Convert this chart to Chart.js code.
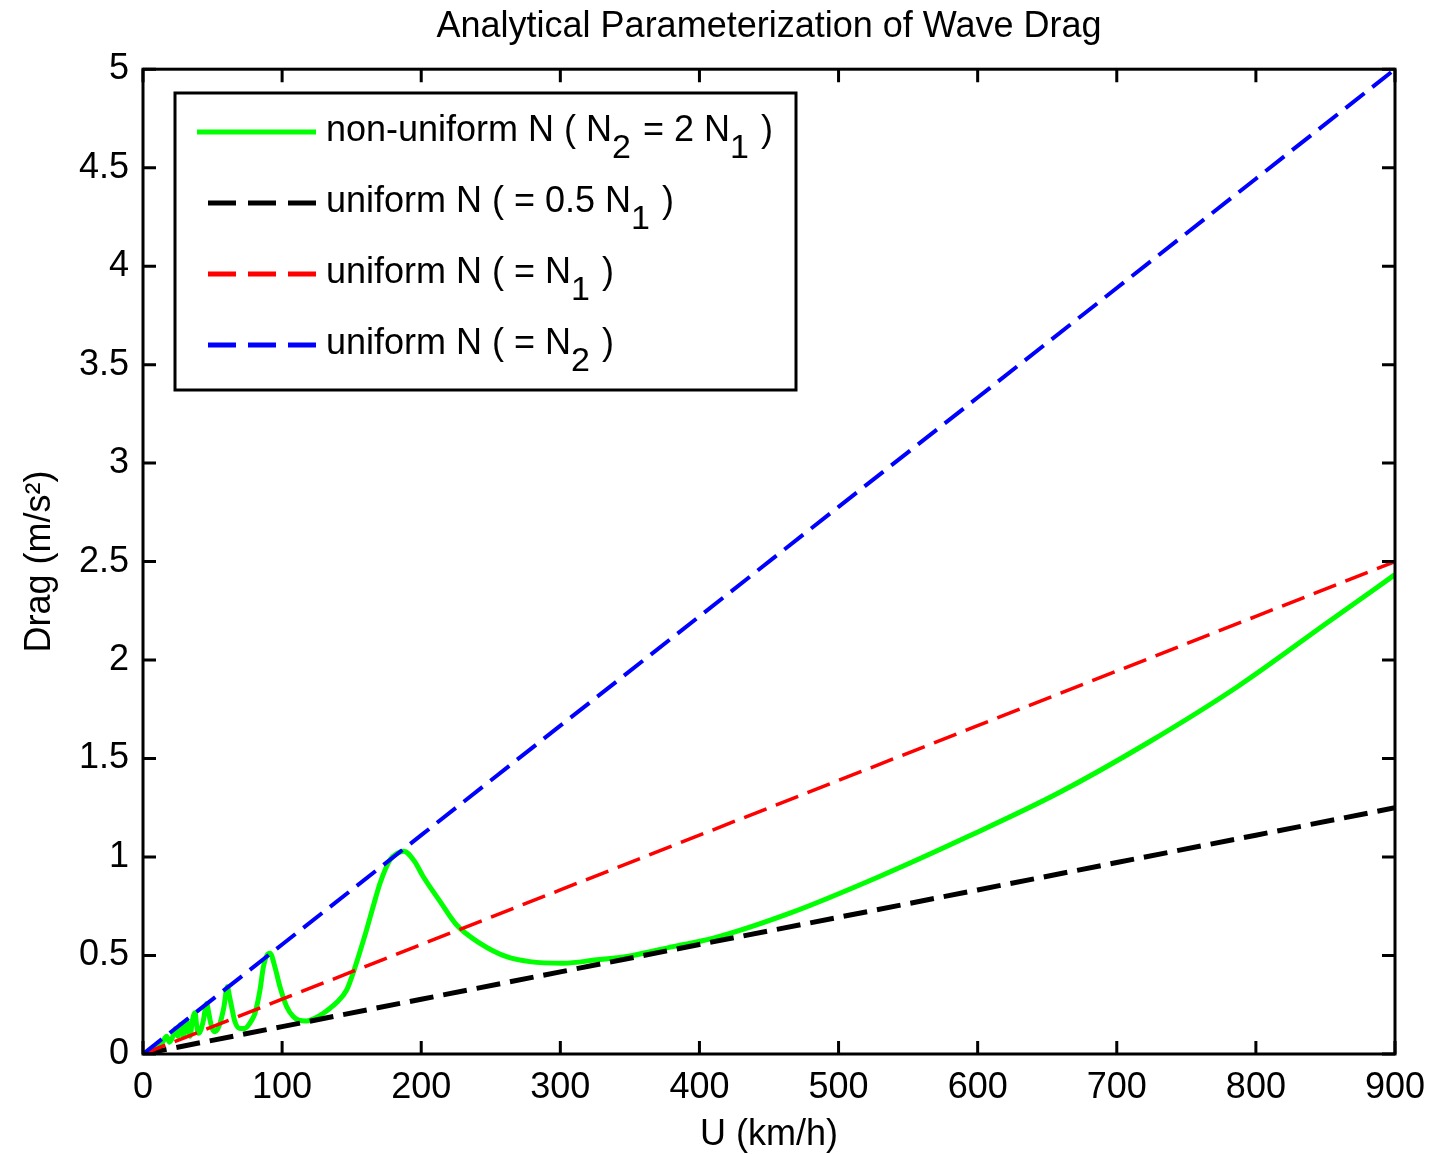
<!DOCTYPE html>
<html>
<head>
<meta charset="utf-8">
<script src="https://cdn.jsdelivr.net/npm/chart.js@4.4.0/dist/chart.umd.min.js"></script>
<style>
html,body{margin:0;padding:0;background:#fff;}
#wrap{width:1429px;height:1154px;}
</style>
</head>
<body>
<div id="wrap"><canvas id="c" width="1429" height="1154"></canvas></div>
<script>
const FONT = '"Liberation Sans Narrow", "Liberation Sans", Arial, sans-serif';

// Tick labels
const xTicks = [0, 100, 200, 300, 400, 500, 600, 700, 800, 900];
const yTicks = [0, 0.5, 1, 1.5, 2, 2.5, 3, 3.5, 4, 4.5, 5];

// Uniform-N reference curves (U in km/h, drag in m/s^2)
const speedKmh   = [0, 100, 200, 300, 400, 500, 600, 700, 800, 900];
const dragHalfN1 = [0, 0.139, 0.278, 0.417, 0.556, 0.694, 0.833, 0.972, 1.111, 1.25];
const dragN1     = [0, 0.278, 0.556, 0.833, 1.111, 1.389, 1.667, 1.944, 2.222, 2.5];
const dragN2     = [0, 0.556, 1.111, 1.667, 2.222, 2.778, 3.333, 3.889, 4.444, 5.0];

// Non-uniform N curve
const nonUniformU = [0, 10, 14, 17, 19, 21, 23.5, 25, 27, 29, 31.3, 33.8, 35.5, 37.4, 38.5, 39.8, 41.5, 43.4, 45.8, 47, 48.2, 50, 51.8, 53.5, 55.4, 57, 58.2, 60.6, 62, 63.7, 66.1, 69.7, 73, 75.7, 78, 80.5, 84.1, 86.5, 89, 91.3, 94.9, 98.5, 103.3, 108, 112, 117.6, 123, 129.6, 134, 139, 146.4, 151, 156, 160.7, 165.5, 170.4, 177.6, 183, 187.5, 195, 201.5, 213.5, 225.5, 242.3, 261.4, 278, 302, 326, 350, 381, 410, 465, 529, 593, 658, 722, 787, 851, 900];
const nonUniformDrag = [0, 0.035, 0.06, 0.09, 0.06, 0.08, 0.13, 0.09, 0.15, 0.09, 0.17, 0.09, 0.17, 0.21, 0.15, 0.105, 0.12, 0.17, 0.257, 0.22, 0.173, 0.125, 0.113, 0.125, 0.156, 0.2, 0.24, 0.342, 0.3, 0.24, 0.164, 0.13, 0.13, 0.145, 0.17, 0.207, 0.325, 0.44, 0.5, 0.512, 0.44, 0.34, 0.24, 0.19, 0.172, 0.168, 0.18, 0.207, 0.23, 0.26, 0.325, 0.41, 0.52, 0.63, 0.75, 0.867, 0.986, 1.02, 1.03, 0.98, 0.9, 0.775, 0.655, 0.562, 0.494, 0.469, 0.461, 0.478, 0.498, 0.545, 0.588, 0.715, 0.90, 1.104, 1.325, 1.579, 1.866, 2.188, 2.434];

const toPts = (xs, ys) => xs.map((x, i) => ({x: x, y: ys[i]}));

const legendRows = [
  {color: '#00ff00', dash: [], width: 5, parts: [['non-uniform N ( N', 0], ['2', 1], [' = 2 N', 0], ['1', 1], [' )', 0]]},
  {color: '#000000', dash: [28, 12], width: 5, parts: [['uniform N ( = 0.5 N', 0], ['1', 1], [' )', 0]]},
  {color: '#ff0000', dash: [28, 12], width: 5, parts: [['uniform N ( = N', 0], ['1', 1], [' )', 0]]},
  {color: '#0000ff', dash: [28, 12], width: 5, parts: [['uniform N ( = N', 0], ['2', 1], [' )', 0]]}
];

const framePlugin = {
  id: 'frame',
  afterDatasetsDraw(chart) {
    const {ctx, chartArea: a, scales: {x, y}} = chart;
    ctx.save();
    ctx.strokeStyle = '#000';
    ctx.lineWidth = 3;
    ctx.setLineDash([]);
    ctx.strokeRect(a.left, a.top, a.right - a.left, a.bottom - a.top);
    const L = 13;
    ctx.beginPath();
    xTicks.forEach(v => {
      const px = x.getPixelForValue(v);
      ctx.moveTo(px, a.bottom); ctx.lineTo(px, a.bottom - L);
      ctx.moveTo(px, a.top); ctx.lineTo(px, a.top + L);
    });
    yTicks.forEach(v => {
      const py = y.getPixelForValue(v);
      ctx.moveTo(a.left, py); ctx.lineTo(a.left + L, py);
      ctx.moveTo(a.right, py); ctx.lineTo(a.right - L, py);
    });
    ctx.stroke();
    ctx.restore();
  }
};

const legendPlugin = {
  id: 'boxLegend',
  afterDraw(chart) {
    const ctx = chart.ctx;
    const bx = 175, by = 93, bw = 621, bh = 297;
    ctx.save();
    ctx.fillStyle = '#fff';
    ctx.fillRect(bx, by, bw, bh);
    ctx.strokeStyle = '#000';
    ctx.lineWidth = 3;
    ctx.setLineDash([]);
    ctx.strokeRect(bx, by, bw, bh);
    const rowY = [132, 203, 274, 345];
    legendRows.forEach((r, i) => {
      const yy = rowY[i];
      ctx.beginPath();
      ctx.strokeStyle = r.color;
      ctx.lineWidth = r.width;
      ctx.setLineDash(r.dash);
      ctx.lineDashOffset = 0;
      if (r.dash.length) { ctx.moveTo(208, yy); ctx.lineTo(316, yy); }
      else { ctx.moveTo(197, yy); ctx.lineTo(316, yy); }
      ctx.stroke();
      ctx.setLineDash([]);
      let tx = 326;
      ctx.fillStyle = '#000';
      ctx.textBaseline = 'alphabetic';
      ctx.textAlign = 'left';
      r.parts.forEach(([t, sub]) => {
        ctx.font = (sub ? '34px ' : '36px ') + FONT;
        ctx.fillText(t, tx, yy + 9 + (sub ? 17 : 0));
        tx += ctx.measureText(t).width + (sub ? 2 : 0);
      });
    });
    ctx.restore();
  }
};

new Chart(document.getElementById('c'), {
  type: 'line',
  data: {
    datasets: [
      {label: 'non-uniform N', data: toPts(nonUniformU, nonUniformDrag), borderColor: '#00ff00', borderWidth: 5, pointRadius: 0, cubicInterpolationMode: 'monotone', order: 4},
      {label: 'uniform N (0.5 N1)', data: toPts(speedKmh, dragHalfN1), borderColor: '#000000', borderWidth: 5, borderDash: [24, 10], pointRadius: 0, order: 3},
      {label: 'uniform N (N1)', data: toPts(speedKmh, dragN1), borderColor: '#ff0000', borderWidth: 3.5, borderDash: [24, 10], pointRadius: 0, order: 2},
      {label: 'uniform N (N2)', data: toPts(speedKmh, dragN2), borderColor: '#0000ff', borderWidth: 4, borderDash: [24, 10], pointRadius: 0, order: 1}
    ]
  },
  options: {
    responsive: false,
    animation: false,
    devicePixelRatio: 1,
    layout: {padding: {left: 0, right: 34, top: 0, bottom: 0}},
    plugins: {
      legend: {display: false},
      tooltip: {enabled: false},
      title: {
        display: true, fullSize: false,
        text: 'Analytical Parameterization of Wave Drag',
        color: '#000',
        font: {family: FONT, size: 36, weight: 'normal', lineHeight: 1.2},
        padding: {top: 5, bottom: 21}
      }
    },
    scales: {
      x: {
        type: 'linear', min: 0, max: 900,
        afterBuildTicks: s => { s.ticks = xTicks.map(v => ({value: v})); },
        afterFit: s => { s.height = 100; s.paddingLeft = 0; s.paddingRight = 0; },
        grid: {display: false, drawTicks: false},
        border: {display: false},
        ticks: {color: '#000', font: {family: FONT, size: 36}, padding: 12, maxRotation: 0, autoSkip: false, callback: v => String(v)},
        title: {display: true, text: 'U (km/h)', color: '#000', font: {family: FONT, size: 36, lineHeight: 1}, padding: {top: 0, bottom: 1}}
      },
      y: {
        type: 'linear', min: 0, max: 5,
        afterBuildTicks: s => { s.ticks = yTicks.map(v => ({value: v})); },
        afterFit: s => { s.width = 143; s.paddingTop = 0; s.paddingBottom = 0; },
        grid: {display: false, drawTicks: false},
        border: {display: false},
        ticks: {color: '#000', font: {family: FONT, size: 36}, padding: 14, autoSkip: false, callback: v => String(v)},
        title: {display: true, text: 'Drag (m/s²)', color: '#000', font: {family: FONT, size: 36, lineHeight: 1}, padding: {top: 22, bottom: 0}}
      }
    }
  },
  plugins: [framePlugin, legendPlugin]
});
</script>
</body>
</html>
